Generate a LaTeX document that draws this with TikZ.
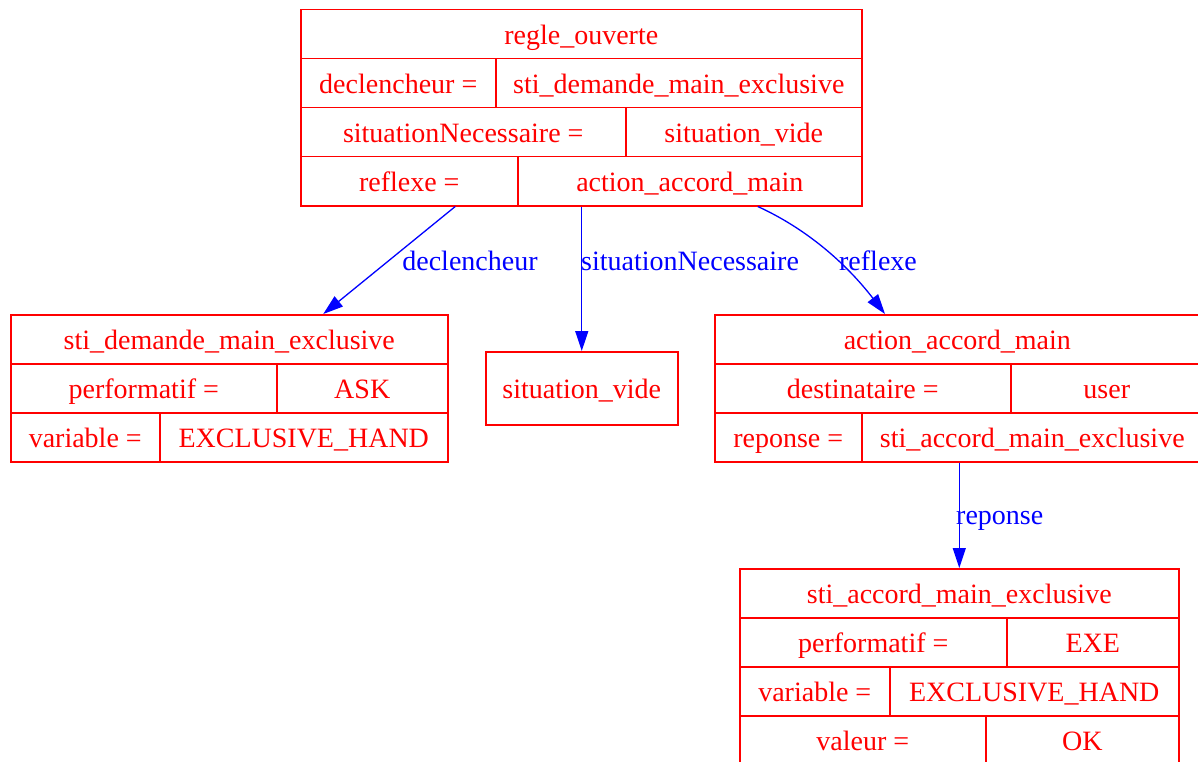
\documentclass[tikz,border=0pt]{standalone}
\usepackage{fontspec}
\setmainfont{Liberation Serif}
\usetikzlibrary{arrows.meta}
\tikzset{
  cell/.style={draw=red, text=red, line width=1.5pt, anchor=north west,
    inner sep=0pt, minimum height=49pt, text height=23pt, text depth=3pt,
    font=\fontsize{28}{32}\selectfont},
  link/.style={draw=blue, line width=1.3pt, -{Triangle[length=20pt,width=13pt]}},
  lbl/.style={text=blue, inner sep=0pt, font=\fontsize{28}{32}\selectfont}
}
\begin{document}
\begin{tikzpicture}[x=1pt,y=-1pt]
\useasboundingbox (0,0) rectangle (1198,762);
% regle_ouverte
\node[cell, minimum width=561pt] (rt) at (300,9) {regle\_ouverte};
\node[cell, minimum width=195pt] (rdk) at (300,58) {declencheur =};
\node[cell, minimum width=366pt] (rdv) at (495,58) {sti\_demande\_main\_exclusive};
\node[cell, minimum width=325pt] (rsk) at (300,107) {situationNecessaire =};
\node[cell, minimum width=236pt] (rsv) at (625,107) {situation\_vide};
\node[cell, minimum width=217pt] (rrk) at (300,156) {reflexe =};
\node[cell, minimum width=344pt] (rrv) at (517,156) {action\_accord\_main};
% sti_demande_main_exclusive
\node[cell, minimum width=437pt] (dt) at (10,314) {sti\_demande\_main\_exclusive};
\node[cell, minimum width=266pt] (dpk) at (10,363) {performatif =};
\node[cell, minimum width=171pt] (dpv) at (276,363) {ASK};
\node[cell, minimum width=149pt] (dvk) at (10,412) {variable =};
\node[cell, minimum width=288pt] (dvv) at (159,412) {EXCLUSIVE\_HAND};
% situation_vide
\node[cell, minimum width=192pt, minimum height=73pt] (sv) at (485,351) {situation\_vide};
% action_accord_main
\node[cell, minimum width=488pt] (aat) at (714,314) {\hspace*{-3pt}action\_accord\_main};
\node[cell, minimum width=296pt] (adk) at (714,363) {destinataire =};
\node[cell, minimum width=192pt] (adv) at (1010,363) {user};
\node[cell, minimum width=147pt] (ark) at (714,412) {reponse =};
\node[cell, minimum width=341pt] (arv) at (861,412) {sti\_accord\_main\_exclusive};
% sti_accord_main_exclusive
\node[cell, minimum width=439pt] (st) at (739,568) {sti\_accord\_main\_exclusive};
\node[cell, minimum width=267pt] (spk) at (739,617) {performatif =};
\node[cell, minimum width=172pt] (spv) at (1006,617) {EXE};
\node[cell, minimum width=150pt] (svk) at (739,666) {variable =};
\node[cell, minimum width=289pt] (svv) at (889,666) {EXCLUSIVE\_HAND};
\node[cell, minimum width=246pt] (sok) at (739,715) {valeur =};
\node[cell, minimum width=193pt] (sov) at (985,715) {OK};
% links
\draw[link] ([xshift=46pt]rrk.south) -- ([xshift=94pt]dt.north);
\draw[link] (rrv.south -| sv.north) -- (sv.north);
\draw[link] ([xshift=68pt]rrv.south) .. controls (805,228) and (845,262) .. (885,314);
\draw[link] (st.north |- arv.south) -- (st.north);
\node[lbl, anchor=base] (ldecl) at (470,270) {declencheur};
\node[lbl, anchor=base west] (lsit) at (581,270) {situationNecessaire};
\node[lbl, anchor=base] (lrefl) at (878,270) {reflexe};
\node[lbl, anchor=base west] (lrep) at (956,524) {reponse};
\end{tikzpicture}
\end{document}
